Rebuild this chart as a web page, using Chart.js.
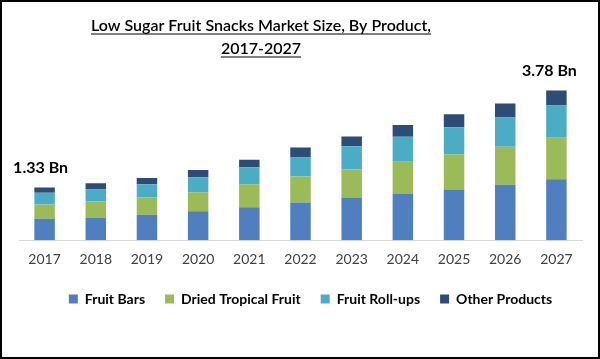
<!DOCTYPE html>
<html>
<head>
<meta charset="utf-8">
<script src="https://cdn.jsdelivr.net/npm/chart.js@4.4.0/dist/chart.umd.min.js"></script>
<style>
html,body{margin:0;padding:0;background:#fff;}
#wrap{width:600px;height:359px;position:relative;}
canvas{display:block;}
</style>
</head>
<body>
<div id="wrap"><canvas id="c" width="600" height="359"></canvas></div>
<script>
const categories = ['2017','2018','2019','2020','2021','2022','2023','2024','2025','2026','2027'];
const fruitBars = [0.54,0.56,0.64,0.73,0.83,0.95,1.08,1.18,1.28,1.40,1.54];
const driedTropicalFruit = [0.36,0.42,0.44,0.48,0.58,0.66,0.71,0.80,0.89,0.96,1.05];
const fruitRollUps = [0.30,0.30,0.33,0.38,0.43,0.48,0.58,0.63,0.68,0.74,0.81];
const otherProducts = [0.13,0.16,0.16,0.18,0.19,0.25,0.25,0.30,0.33,0.35,0.38];
const titleLines = ['Low Sugar Fruit Snacks Market Size, By Product,','2017-2027'];
const firstLabel = '1.33 Bn';
const lastLabel = '3.78 Bn';

const FONT = 'Lato, "Open Sans", sans-serif';

const legendShift = {
  id: 'legendShift',
  afterLayout(chart) {
    const lg = chart.legend;
    if (!lg) return;
    lg.top -= 7; lg.bottom -= 7;
    lg.left += 10; lg.right += 10;
  }
};

const extras = {
  id: 'extras',
  afterDraw(chart) {
    const ctx = chart.ctx;
    ctx.save();
    ctx.fillStyle = '#000';
    ctx.strokeStyle = '#000';
    ctx.textAlign = 'center';
    ctx.textBaseline = 'alphabetic';
    ctx.font = '600 16px ' + FONT;
    const cx = 261;
    const ys = [31, 54];
    titleLines.forEach((t, i) => {
      ctx.fillText(t, cx, ys[i]);
      const w = ctx.measureText(t).width;
      ctx.lineWidth = 1.2;
      ctx.beginPath();
      ctx.moveTo(cx - w / 2, ys[i] + 3);
      ctx.lineTo(cx + w / 2, ys[i] + 3);
      ctx.stroke();
    });
    const meta = chart.getDatasetMeta(3);
    const n = meta.data.length;
    ctx.font = 'bold 16px ' + FONT;
    ctx.textBaseline = 'middle';
    ctx.fillStyle = '#000';
    const p0 = meta.data[0];
    ctx.fillText(firstLabel, p0.x - 4, p0.y - 20);
    const pn = meta.data[n - 1];
    ctx.fillText(lastLabel, pn.x - 7, pn.y - 20);
    ctx.strokeStyle = '#000';
    ctx.lineWidth = 2;
    ctx.strokeRect(1, 1, chart.width - 2, chart.height - 2);
    ctx.restore();
  }
};

new Chart(document.getElementById('c'), {
  type: 'bar',
  data: {
    labels: categories,
    datasets: [
      { label: 'Fruit Bars', data: fruitBars, backgroundColor: '#4F7FBF' },
      { label: 'Dried Tropical Fruit', data: driedTropicalFruit, backgroundColor: '#9BBB59' },
      { label: 'Fruit Roll-ups', data: fruitRollUps, backgroundColor: '#4BACC6' },
      { label: 'Other Products', data: otherProducts, backgroundColor: '#2C4D75' }
    ]
  },
  options: {
    responsive: false,
    animation: false,
    devicePixelRatio: 1,
    layout: { padding: { top: 62, left: 19, right: 18, bottom: 36 } },
    datasets: { bar: { barPercentage: 0.4, categoryPercentage: 1.0 } },
    scales: {
      x: {
        stacked: true,
        grid: { display: false, drawTicks: false },
        border: { display: true, color: '#D9D9D9', width: 1 },
        ticks: { color: '#404040', font: { family: FONT, size: 14 }, padding: 11 }
      },
      y: {
        stacked: true,
        display: false,
        min: 0,
        max: 4.5
      }
    },
    plugins: {
      title: { display: false },
      tooltip: { enabled: false },
      legend: {
        position: 'bottom',
        labels: {
          boxWidth: 9,
          boxHeight: 9,
          padding: 20,
          color: '#000',
          font: { family: FONT, size: 14, weight: 'bold' }
        }
      }
    }
  },
  plugins: [legendShift, extras]
});
</script>
</body>
</html>
